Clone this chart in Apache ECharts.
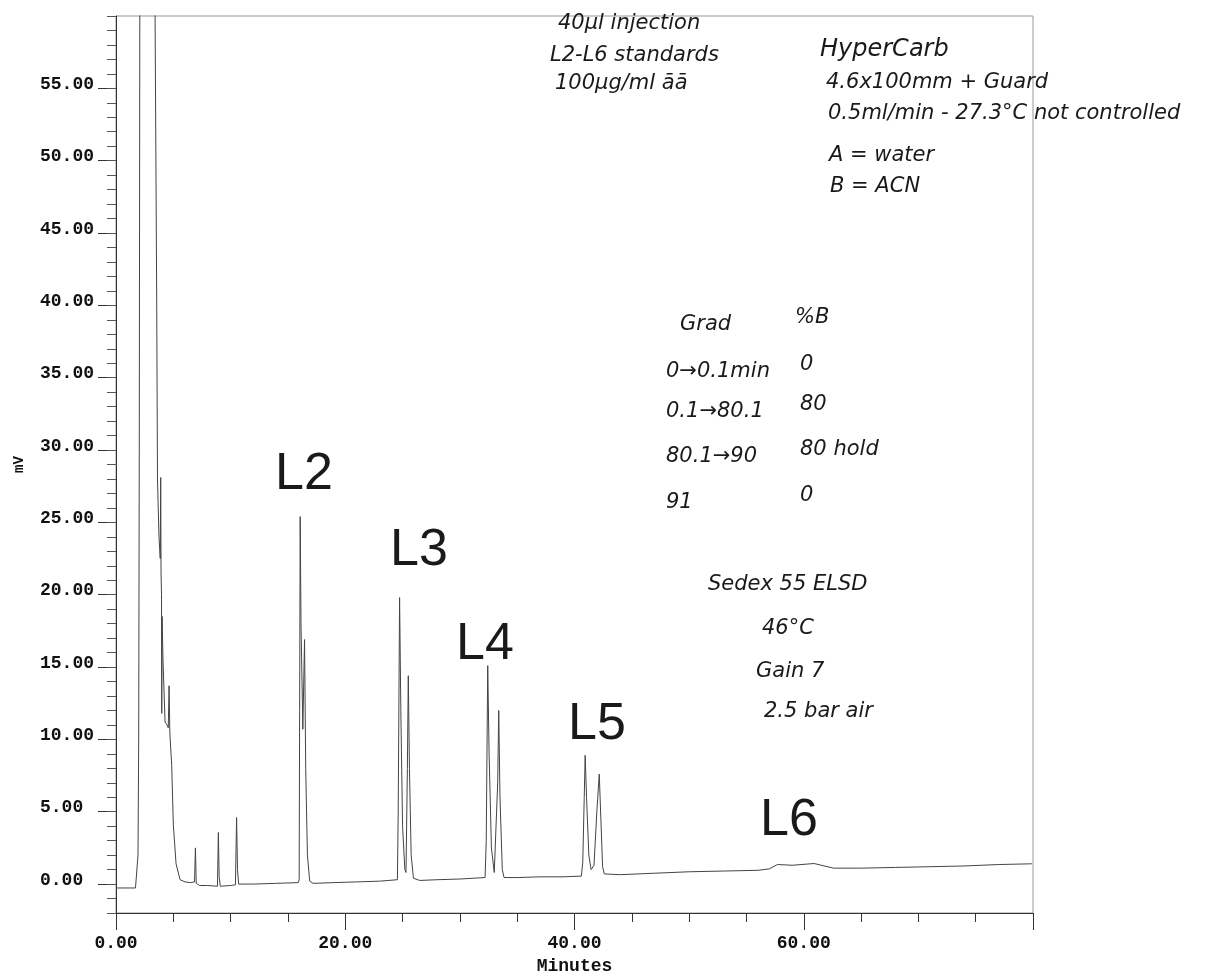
<!DOCTYPE html>
<html>
<head>
<meta charset="utf-8">
<script src="https://cdn.jsdelivr.net/npm/echarts@6/dist/echarts.min.js"></script>
<style>
html,body{margin:0;padding:0;background:#fff;}
#chart{width:1220px;height:980px;}
</style>
</head>
<body>
<div id="chart"></div>
<script>
// ---- data ----
const timeMin = [0, 1.7, 1.82, 1.92, 1.98, 2.03, 2.08, 2.7, 3.35, 3.41, 3.55, 3.62, 3.75, 3.86, 3.9, 3.93, 3.97, 3.99, 4.02, 4.1, 4.28, 4.45, 4.56, 4.63, 4.7, 4.86, 5.0, 5.24, 5.59, 6.03, 6.5, 6.85, 6.93, 7.0, 7.3, 8.0, 8.85, 8.93, 9.0, 9.1, 10.0, 10.42, 10.52, 10.6, 10.7, 12, 14, 15.9, 15.98, 16.02, 16.07, 16.14, 16.3, 16.45, 16.55, 16.7, 16.9, 17.2, 19, 21, 23, 24.55, 24.62, 24.74, 24.85, 25.0, 25.2, 25.3, 25.42, 25.5, 25.6, 25.75, 25.95, 26.5, 28, 30, 32.2, 32.3, 32.43, 32.55, 32.75, 33.0, 33.12, 33.3, 33.39, 33.5, 33.7, 33.85, 35, 37, 39, 40.6, 40.72, 40.85, 40.93, 41.05, 41.25, 41.45, 41.55, 41.7, 41.95, 42.16, 42.3, 42.45, 42.6, 44, 47, 50, 53, 56, 57, 57.7, 59, 60.9, 62.6, 65, 68, 71, 74, 77, 79.9];
const signalMV = [-0.27, -0.27, -0.2, 2, 10, 30, 62, 140, 66, 60, 40.5, 28, 24, 22.5, 28.1, 21.5, 20, 11.8, 18.5, 15.5, 11.2, 11.0, 10.8, 13.7, 10.4, 8.2, 4.1, 1.4, 0.3, 0.15, 0.1, 0.15, 2.5, 0.05, -0.1, -0.1, -0.15, 3.56, 0.5, -0.15, -0.1, -0.05, 4.6, 1.0, 0.0, 0.0, 0.05, 0.1, 0.3, 12, 25.4, 18, 10.7, 16.9, 8, 2, 0.2, 0.05, 0.1, 0.15, 0.2, 0.3, 5, 19.8, 12, 4, 1.0, 0.8, 8, 14.4, 8, 2, 0.4, 0.25, 0.3, 0.35, 0.45, 3, 15.1, 9, 2.5, 0.8, 0.7, 7, 12.0, 6, 1, 0.45, 0.45, 0.5, 0.5, 0.55, 1.5, 6, 8.9, 6, 2, 1.0, 0.9, 1.3, 5, 7.6, 4.5, 1.2, 0.7, 0.65, 0.75, 0.85, 0.9, 0.95, 1.05, 1.35, 1.3, 1.42, 1.1, 1.1, 1.15, 1.2, 1.25, 1.35, 1.4];
const peakLabels = ['L2', 'L3', 'L4', 'L5', 'L6'];
const noteLeft = ['40µl injection', 'L2-L6 standards', '100µg/ml āā'];
const noteColumn = ['HyperCarb', '4.6x100mm + Guard', '0.5ml/min - 27.3°C not controlled', 'A = water', 'B = ACN'];
const gradHeader = ['Grad', '%B'];
const gradSteps = ['0→0.1min', '0.1→80.1', '80.1→90', '91'];
const gradPctB = ['0', '80', '80 hold', '0'];
const detectorNotes = ['Sedex 55 ELSD', '46°C', 'Gain 7', '2.5 bar air'];
const xTitle = 'Minutes';
const yTitle = 'mV';

const seriesData = timeMin.map((t, i) => [t, signalMV[i]]);

const monoFont = 'Liberation Mono';
const handFont = "oblique 21px 'DejaVu Sans'";

function txt(text, x, y, font, align) {
  return {type: 'text', x: x, y: y, z: 100,
    style: {text: text, font: font, fill: '#1a1a1a', align: align || 'left', verticalAlign: 'middle'}};
}

const peakPos = [[304, 475], [419, 551], [485, 645], [597, 725], [789, 821]];
const graphics = [];
peakLabels.forEach((l, i) => graphics.push(txt(l, peakPos[i][0], peakPos[i][1], "52px 'Liberation Sans'", 'center')));
const leftPos = [[558, 24], [550, 56], [555, 84]];
noteLeft.forEach((t, i) => graphics.push(txt(t, leftPos[i][0], leftPos[i][1], handFont)));
const colPos = [[820, 50], [826, 83], [828, 114], [829, 156], [830, 187]];
noteColumn.forEach((t, i) => graphics.push(txt(t, colPos[i][0], colPos[i][1], i === 0 ? "oblique 24px 'DejaVu Sans'" : handFont)));
graphics.push(txt(gradHeader[0], 680, 325, handFont));
graphics.push(txt(gradHeader[1], 795, 318, handFont));
const gradY = [372, 412, 457, 503];
gradSteps.forEach((t, i) => graphics.push(txt(t, 666, gradY[i], handFont)));
gradPctB.forEach((t, i) => graphics.push(txt(t, 800, gradY[i] - 7, handFont)));
const detPos = [[708, 585], [762, 629], [756, 672], [764, 712]];
detectorNotes.forEach((t, i) => graphics.push(txt(t, detPos[i][0], detPos[i][1], handFont)));

const chart = echarts.init(document.getElementById('chart'));
chart.setOption({
  animation: false,
  backgroundColor: '#fff',
  grid: {left: 116, right: 187, top: 16, bottom: 58, show: true, borderColor: '#999', borderWidth: 1, backgroundColor: 'transparent'},
  xAxis: {
    type: 'value', min: 0, max: 80, interval: 20,
    name: xTitle, nameLocation: 'middle', nameGap: 44,
    nameTextStyle: {fontFamily: monoFont, fontWeight: 'bold', fontSize: 18, color: '#111'},
    axisLine: {show: true, onZero: false, lineStyle: {color: '#333', width: 1}},
    axisTick: {show: true, length: 17, lineStyle: {color: '#333'}},
    minorTick: {show: true, splitNumber: 4, length: 9, lineStyle: {color: '#333'}},
    splitLine: {show: false},
    axisLabel: {margin: 21, fontFamily: monoFont, fontWeight: 'bold', fontSize: 18, color: '#111',
      showMaxLabel: false, formatter: v => v.toFixed(2)}
  },
  yAxis: [{
    type: 'value', min: -2, max: 60, minInterval: 5, maxInterval: 5,
    name: yTitle, nameLocation: 'middle', nameGap: 90, nameRotate: 90,
    nameTextStyle: {fontFamily: monoFont, fontWeight: 'bold', fontSize: 14, color: '#111'},
    axisLine: {show: true, onZero: false, lineStyle: {color: '#333', width: 1}},
    axisTick: {show: true, length: 18, lineStyle: {color: '#333'}},
    splitLine: {show: false},
    axisLabel: {margin: 76, align: 'left', verticalAlign: 'bottom', lineHeight: 8,
      fontFamily: monoFont, fontWeight: 'bold', fontSize: 18, color: '#111',
      showMinLabel: false, showMaxLabel: false,
      formatter: v => (v >= 0 && v < 60 && Math.abs(v % 5) < 1e-9) ? v.toFixed(2) : ''}
  }, {
    type: 'value', min: -2, max: 60, interval: 1, position: 'left',
    axisLine: {show: false},
    axisTick: {show: true, length: 9, lineStyle: {color: '#555'}},
    splitLine: {show: false},
    axisLabel: {show: false}
  }],
  series: [{
    type: 'line', data: seriesData, yAxisIndex: 0, showSymbol: false, symbol: 'none',
    clip: true, lineStyle: {color: '#444', width: 1}, silent: true
  }],
  graphic: graphics
});
</script>
</body>
</html>
